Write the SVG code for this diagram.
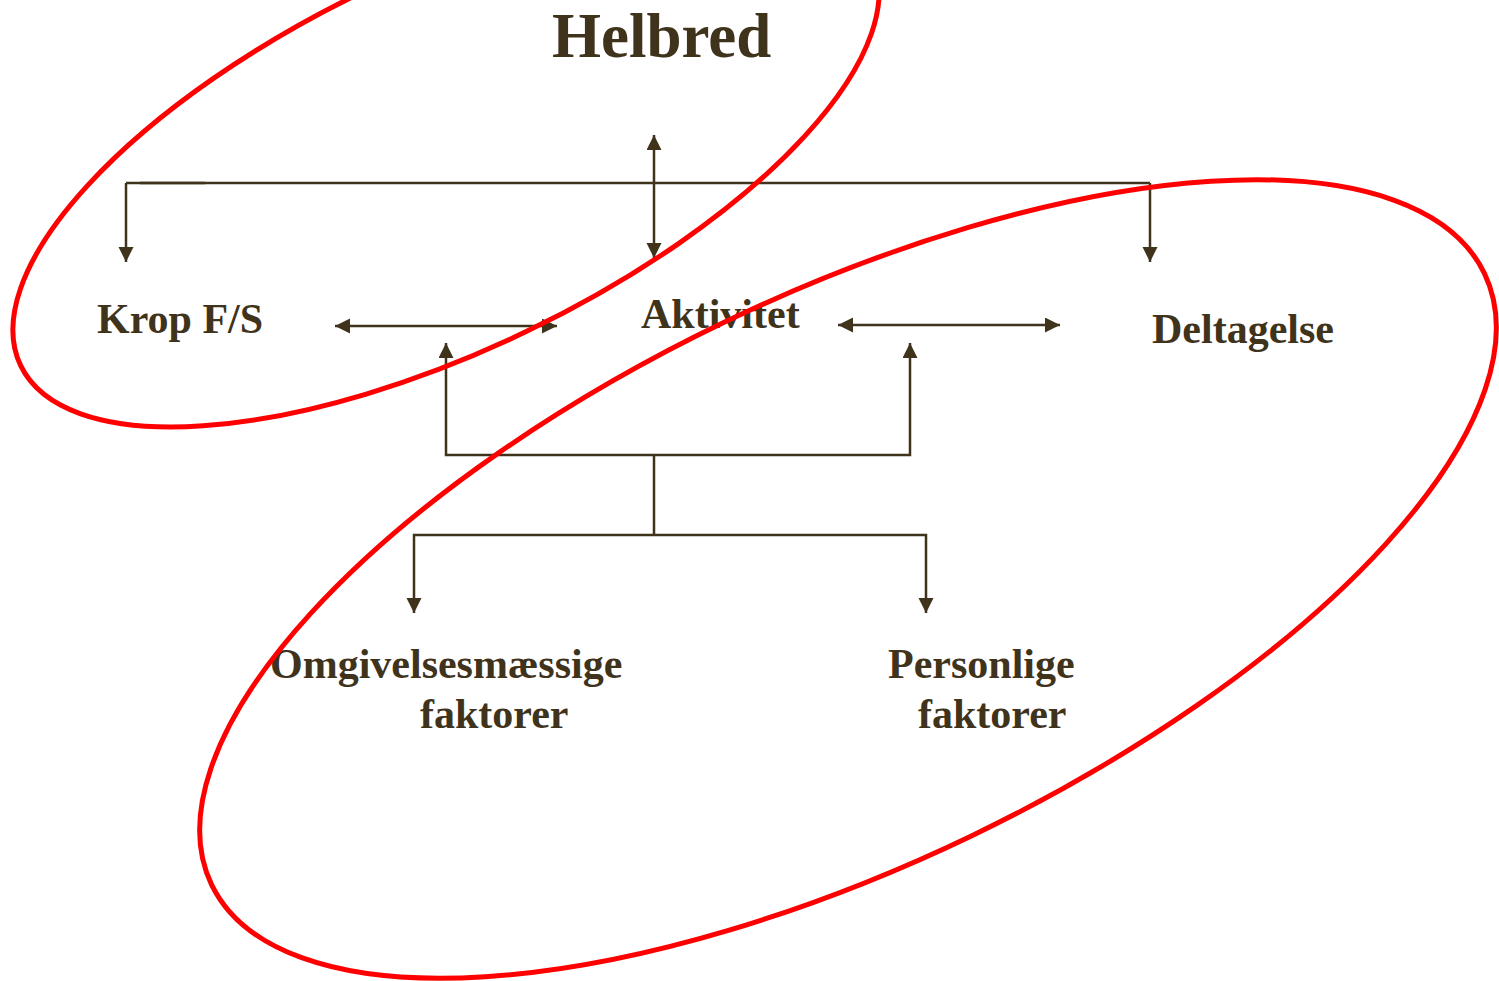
<svg xmlns="http://www.w3.org/2000/svg" width="1499" height="981" viewBox="0 0 1499 981">
<style>
.t{font-family:"Liberation Serif","Times New Roman",serif;font-weight:bold;fill:#3f331c;font-size:42px}
.c{fill:none;stroke:#3f331c;stroke-width:2.5}
.e{fill:none;stroke:#ff0000;stroke-width:5}
</style>
<defs>
<marker id="ah" markerUnits="userSpaceOnUse" markerWidth="16" markerHeight="16" refX="15" refY="7.5" orient="auto-start-reverse" viewBox="0 0 16 16">
<path d="M0,0 L15,7.5 L0,15 z" fill="#3f331c"/>
</marker>
</defs>
<rect width="1499" height="981" fill="#ffffff"/>
<g id="connectors">
<path class="c" d="M126,183 H1150"/>
<path class="c" d="M140,183 H205" stroke-width="3.5"/>
<path class="c" d="M126,183 V262" marker-end="url(#ah)"/>
<path class="c" d="M1150,183 V262" marker-end="url(#ah)"/>
<path class="c" d="M654,135 V258" marker-start="url(#ah)" marker-end="url(#ah)"/>
<path class="c" d="M335,326 H557" marker-start="url(#ah)" marker-end="url(#ah)"/>
<path class="c" d="M838,325 H1060" marker-start="url(#ah)" marker-end="url(#ah)"/>
<path class="c" d="M446,343 V455 H910 V343" marker-start="url(#ah)" marker-end="url(#ah)"/>
<path class="c" d="M654,455 V535"/>
<path class="c" d="M414,613 V535 H926 V613" marker-start="url(#ah)" marker-end="url(#ah)"/>
</g>
<g id="helbred"><text class="t" x="552" y="57" style="font-size:63px">Helbred</text></g>
<g id="krop"><text class="t" x="97" y="333">Krop F/S</text></g>
<g id="aktivitet"><text class="t" x="641" y="328">Aktivitet</text></g>
<g id="deltagelse"><text class="t" x="1152" y="343">Deltagelse</text></g>
<g id="omgivelser"><text class="t" x="270" y="678">Omgivelsesmæssige</text><text class="t" x="420" y="728">faktorer</text></g>
<g id="personlige"><text class="t" x="888" y="678">Personlige</text><text class="t" x="918" y="728">faktorer</text></g>
<g id="ellipses">
<ellipse class="e" cx="0" cy="0" rx="472" ry="188.5" transform="translate(446,161) rotate(-25.7)"/>
<ellipse class="e" cx="0" cy="0" rx="706" ry="285" transform="translate(848,579) rotate(-25.65)"/>
</g>
</svg>
